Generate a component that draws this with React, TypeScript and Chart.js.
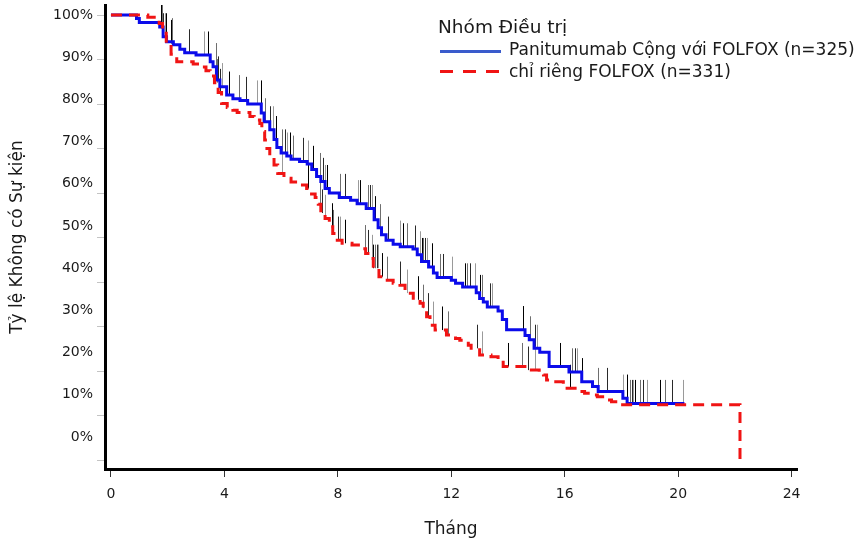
import React, { useEffect, useRef } from 'react';
import { Chart, registerables } from 'chart.js';

Chart.register(...registerables);

// ---- Data ----
const panTimes = [0, 0.9, 1.0, 1.72, 1.84, 1.96, 2.2, 2.43, 2.6, 3.0, 3.5, 3.6, 3.72, 3.84, 4.08, 4.3, 4.55, 4.82, 5.3, 5.4, 5.6, 5.75, 5.85, 6.0, 6.2, 6.35, 6.65, 6.92, 7.08, 7.25, 7.4, 7.55, 7.7, 8.05, 8.45, 8.68, 9.0, 9.28, 9.42, 9.54, 9.7, 9.95, 10.2, 10.65, 10.8, 10.95, 11.2, 11.37, 11.5, 12.0, 12.15, 12.4, 12.88, 13.0, 13.13, 13.27, 13.65, 13.8, 13.95, 14.6, 14.75, 14.92, 15.12, 15.45, 16.15, 16.6, 16.98, 17.18, 18.05, 18.2, 20.22];
const panSurv = [100, 99.2, 98.3, 97.3, 95.1, 94.0, 93.3, 92.3, 91.5, 91.0, 89.5, 88.4, 85.4, 83.9, 82.0, 81.2, 80.8, 80.0, 78.0, 76.0, 74.2, 72.0, 70.2, 69.0, 68.3, 67.6, 67.1, 66.5, 65.3, 63.7, 62.6, 61.0, 60.0, 59.0, 58.4, 57.6, 56.5, 54.0, 52.2, 50.6, 49.4, 48.5, 47.9, 47.4, 46.1, 44.6, 43.4, 42.0, 41.0, 40.4, 39.7, 38.9, 37.6, 36.3, 35.5, 34.4, 33.5, 31.6, 29.3, 28.0, 27.0, 25.1, 24.2, 21.0, 19.8, 17.6, 16.5, 15.4, 13.9, 12.7, 12.7];

const folTimes = [0, 1.3, 1.7, 1.82, 1.95, 2.12, 2.32, 2.9, 3.15, 3.35, 3.5, 3.65, 3.78, 3.9, 4.1, 4.3, 4.45, 4.9, 5.05, 5.25, 5.32, 5.42, 5.5, 5.6, 5.75, 5.88, 6.1, 6.35, 6.65, 6.9, 7.02, 7.2, 7.31, 7.4, 7.55, 7.7, 7.82, 7.98, 8.15, 8.5, 8.85, 8.98, 9.15, 9.25, 9.45, 9.6, 9.95, 10.19, 10.37, 10.66, 10.9, 11.01, 11.13, 11.25, 11.43, 11.83, 12.15, 12.3, 12.6, 12.7, 13.0, 13.4, 13.65, 13.83, 14.7, 15.1, 15.25, 15.36, 15.6, 15.95, 16.45, 16.7, 17.05, 17.15, 17.45, 17.65, 17.9, 22.18];
const folSurv = [100, 99.5, 98.1, 95.9, 93.6, 91.2, 89.5, 89.0, 88.3, 87.5, 86.3, 84.8, 82.6, 80.1, 79.2, 78.6, 78.1, 77.2, 76.4, 75.6, 73.8, 71.9, 70.0, 68.2, 66.3, 64.4, 63.3, 62.5, 61.8, 61.0, 59.8, 59.0, 57.5, 55.5, 54.3, 52.4, 50.9, 49.4, 48.7, 48.3, 47.5, 46.4, 45.3, 43.1, 41.2, 40.4, 39.7, 39.3, 37.5, 36.0, 35.2, 34.1, 32.2, 30.3, 29.2, 28.1, 27.3, 26.9, 25.8, 25.1, 23.6, 23.2, 22.4, 21.0, 20.2, 19.8, 19.1, 18.0, 17.6, 16.1, 15.4, 15.0, 14.6, 14.2, 13.5, 13.1, 12.4, 0];

const panCensor = [1.75, 1.8, 1.85, 1.9, 1.95, 2.15, 2.75, 3.28, 3.42, 3.7, 3.78, 3.9, 4.17, 4.51, 4.76, 5.14, 5.28, 5.43, 5.6, 5.72, 5.82, 6.02, 6.14, 6.22, 6.31, 6.43, 6.78, 6.96, 7.14, 7.37, 7.49, 7.55, 7.61, 8.07, 8.25, 8.72, 8.78, 9.07, 9.13, 9.19, 9.31, 9.49, 9.78, 10.19, 10.31, 10.43, 10.72, 10.9, 10.95, 11.01, 11.07, 11.13, 11.31, 11.6, 11.72, 12.01, 12.48, 12.54, 12.66, 12.83, 13.01, 13.07, 13.36, 13.42, 14.54, 14.77, 14.95, 15.01, 15.83, 16.24, 16.36, 16.42, 16.6, 17.18, 17.48, 18.07, 18.18, 18.3, 18.36, 18.42, 18.48, 18.65, 18.77, 18.89, 19.36, 19.53, 19.77, 20.18];
const folCensor = [2.1, 3.75, 3.85, 6.02, 6.96, 7.37, 7.43, 7.55, 7.78, 7.84, 8.02, 8.07, 8.25, 8.96, 9.07, 9.19, 9.25, 9.31, 9.37, 9.43, 9.55, 9.72, 10.19, 10.43, 10.84, 11.01, 11.19, 11.37, 11.66, 11.9, 12.89, 13.07, 14.01, 14.48, 14.71, 14.95, 16.18];

const xTicks = [0, 4, 8, 12, 16, 20, 24];
const yTicks = [0, 10, 20, 30, 40, 50, 60, 70, 80, 90, 100];

const seriesLabels = ['Panitumumab Cộng với FOLFOX (n=325)', 'chỉ riêng FOLFOX (n=331)'];
const legendTitle = 'Nhóm Điều trị';
const xTitle = 'Tháng';
const yTitle = 'Tỷ lệ Không có Sự kiện';

// ---- Styles ----
const FONT = "'DejaVu Sans', sans-serif";
const BLUE = '#0b0bea';
const RED = '#f01414';
const LEGEND_BLUE = '#3a5bcc';
const MARK_LEN = 5.3;

function survAt(times: number[], surv: number[], t: number) {
  let s = surv[0];
  for (let i = 0; i < times.length; i++) {
    if (times[i] <= t) s = surv[i];
    else break;
  }
  return s;
}

const toPoints = (times: number[], surv: number[]) => times.map((t, i) => ({ x: t, y: surv[i] }));

const censorPlugin = {
  id: 'censorMarks',
  beforeDatasetsDraw(chart: any) {
    const { ctx, chartArea, scales } = chart;
    const x = scales.x;
    const y = scales.y;
    ctx.save();
    ctx.beginPath();
    ctx.rect(chartArea.left, chartArea.top, chartArea.right - chartArea.left, chartArea.bottom - chartArea.top);
    ctx.clip();
    ctx.lineWidth = 1;
    const groups: [number[], number[], number[]][] = [
      [panTimes, panSurv, panCensor],
      [folTimes, folSurv, folCensor],
    ];
    const shades = ['#000000', '#6e6e6e', '#2a2a2a', '#9a9a9a'];
    groups.forEach(([times, surv, cens]) => {
      cens.forEach((t, i) => {
        const s = survAt(times, surv, t);
        const px = Math.round(x.getPixelForValue(t)) + 0.5;
        ctx.strokeStyle = shades[i % shades.length];
        ctx.beginPath();
        ctx.moveTo(px, y.getPixelForValue(s));
        ctx.lineTo(px, y.getPixelForValue(s + MARK_LEN));
        ctx.stroke();
      });
    });
    ctx.restore();
  },
};

export default function App() {
  const ref = useRef<HTMLCanvasElement>(null);

  useEffect(() => {
    if (!ref.current) return;
    const chart = new Chart(ref.current, {
      type: 'line',
      data: {
        datasets: [
          {
            label: seriesLabels[1],
            data: toPoints(folTimes, folSurv),
            borderColor: RED,
            borderWidth: 3,
            borderDash: [11, 7],
            stepped: true,
            pointRadius: 0,
            fill: false,
            xAxisID: 'x',
            yAxisID: 'y',
          },
          {
            label: seriesLabels[0],
            data: toPoints(panTimes, panSurv),
            borderColor: BLUE,
            borderWidth: 3,
            stepped: true,
            pointRadius: 0,
            fill: false,
            xAxisID: 'x',
            yAxisID: 'y',
          },
        ],
      } as any,
      options: {
        animation: false,
        responsive: false,
        events: [],
        layout: { padding: { top: 5, right: 67, bottom: 0, left: 0 } },
        plugins: { legend: { display: false }, tooltip: { enabled: false } },
        scales: {
          x: {
            type: 'linear',
            position: 'bottom',
            min: -0.21,
            max: 24.19,
            afterBuildTicks: (s: any) => { s.ticks = xTicks.map((v) => ({ value: v })); },
            afterFit: (s: any) => { s.height = 75; s.paddingLeft = 0; s.paddingRight = 0; },
            ticks: { font: { family: FONT, size: 14 }, color: '#1a1a1a', padding: 9, maxRotation: 0, autoSkip: false },
            grid: { drawOnChartArea: false, drawTicks: true, tickLength: 8, tickColor: '#333', tickWidth: 1 },
            border: { display: true, color: '#000', width: 3 },
            title: { display: true, text: xTitle, font: { family: FONT, size: 17 }, color: '#1a1a1a', padding: { top: 0, bottom: 4 } },
          },
          y: {
            type: 'linear',
            position: 'left',
            weight: 0,
            min: -2.02,
            max: 102.25,
            afterBuildTicks: (s: any) => { s.ticks = yTicks.map((v) => ({ value: v })); },
            afterFit: (s: any) => { s.width = 8; s.paddingTop = 0; s.paddingBottom = 0; },
            ticks: { display: false },
            grid: { drawOnChartArea: false, drawTicks: true, tickLength: 8, tickColor: '#c4c4c4', tickWidth: 1 },
            border: { display: true, color: '#000', width: 3 },
          },
          yl: {
            type: 'linear',
            position: 'left',
            weight: 1,
            min: -7.58,
            max: 102.37,
            afterBuildTicks: (s: any) => { s.ticks = yTicks.map((v) => ({ value: v })); },
            afterFit: (s: any) => { s.width = 97; s.paddingTop = 0; s.paddingBottom = 0; },
            ticks: {
              font: { family: FONT, size: 14 },
              color: '#1a1a1a',
              padding: 4,
              autoSkip: false,
              callback: (v: any) => `${v}%`,
            },
            grid: { display: false, drawTicks: false, tickLength: 0 },
            border: { display: false },
            title: { display: true, text: yTitle, font: { family: FONT, size: 17 }, color: '#1a1a1a', padding: { top: 7, bottom: 0 } },
          },
        } as any,
      },
      plugins: [censorPlugin],
    });
    return () => chart.destroy();
  }, []);

  const textStyle: React.CSSProperties = {
    position: 'absolute',
    fontFamily: FONT,
    color: '#1a1a1a',
    whiteSpace: 'nowrap',
  };

  return (
    <div style={{ position: 'fixed', left: 0, top: 0, width: 864, height: 544, background: '#fff', overflow: 'hidden' }}>
      <canvas ref={ref} width={864} height={544} style={{ display: 'block', width: 864, height: 544 }} />
      <div style={{ ...textStyle, left: 438, top: 16, fontSize: 18.5, lineHeight: '22px' }}>{legendTitle}</div>
      <div style={{ position: 'absolute', left: 440, top: 50, width: 61, height: 3, background: LEGEND_BLUE }} />
      <div style={{ ...textStyle, left: 509, top: 39, fontSize: 17, lineHeight: '20px' }}>{seriesLabels[0]}</div>
      <div
        style={{
          position: 'absolute',
          left: 440,
          top: 70,
          width: 60,
          height: 3,
          background: `repeating-linear-gradient(to right, ${RED} 0px, ${RED} 13.5px, transparent 13.5px, transparent 23px)`,
        }}
      />
      <div style={{ ...textStyle, left: 509, top: 61, fontSize: 17, lineHeight: '20px' }}>{seriesLabels[1]}</div>
    </div>
  );
}
